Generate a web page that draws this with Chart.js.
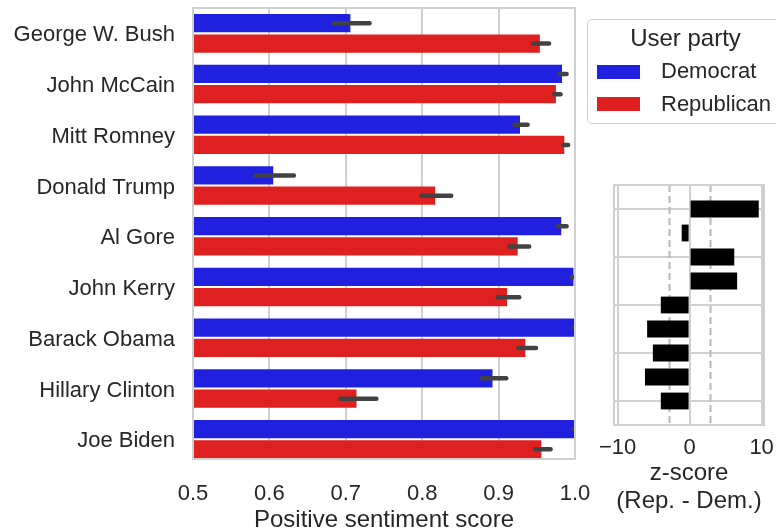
<!DOCTYPE html>
<html>
<head>
<meta charset="utf-8">
<script src="https://cdn.jsdelivr.net/npm/chart.js@4"></script>
<style>
  html, body { margin: 0; padding: 0; background: #fff; }
  body { width: 776px; height: 529px; overflow: hidden; position: relative; font-family: "Liberation Sans", Arial, sans-serif; color: #262626; }
  canvas { position: absolute; }
  #main { left: 0; top: 0; }
  #zplot { left: 595px; top: 160px; }
  #legend { position: absolute; left: 587px; top: 19px; width: 200px; height: 105px; border: 1.5px solid #cfcfcf; border-radius: 5px; background: #fff; box-sizing: border-box; }
  #legend .title { position: absolute; left: 0; width: 195px; top: 6px; text-align: center; font-size: 24px; line-height: 24px; }
  #legend .patch { position: absolute; left: 9px; width: 43px; height: 14px; }
  #legend .lab { position: absolute; left: 73px; font-size: 22px; line-height: 22px; white-space: nowrap; }
</style>
</head>
<body>
<canvas id="main" width="600" height="540"></canvas>
<canvas id="zplot" width="200" height="380"></canvas>
<div id="legend"></div>
<script>
// candidates, top to bottom
const candidates = ['George W. Bush', 'John McCain', 'Mitt Romney', 'Donald Trump', 'Al Gore',
                    'John Kerry', 'Barack Obama', 'Hillary Clinton', 'Joe Biden'];

// mean positive sentiment score by user party, with CI bounds
const demScore = [0.706, 0.983, 0.928, 0.605, 0.982, 0.998, 0.999, 0.892, 0.999];
const demLow   = [0.684, 0.980, 0.921, 0.582, 0.978, 0.996, 0.998, 0.878, 0.998];
const demHigh  = [0.731, 0.989, 0.938, 0.632, 0.989, 1.000, 1.000, 0.910, 1.000];
const repScore = [0.954, 0.975, 0.986, 0.817, 0.925, 0.911, 0.935, 0.714, 0.956];
const repLow   = [0.945, 0.973, 0.985, 0.799, 0.914, 0.899, 0.926, 0.693, 0.948];
const repHigh  = [0.966, 0.981, 0.991, 0.838, 0.940, 0.927, 0.949, 0.740, 0.968];

const xTicks = [0.5, 0.6, 0.7, 0.8, 0.9, 1.0];
// row axis runs a bit short at the bottom, like the original
const rowMin = -0.5, rowMax = 8.39;

// z-score (Rep. - Dem.), same order as candidates
const zScores = [9.6, -1.1, 6.2, 6.6, -4.0, -5.9, -5.1, -6.2, -4.0];
const zTicks = [-10, 0, 10];
const zRowTicks = [0, 2, 4, 6, 8];
const zThreshold = 2.9;

const legendTitle = 'User party';
const parties = ['Democrat', 'Republican'];

const DEM = '#2020df';
const REP = '#df2020';
const GRID = '#d0d0d0';
const TXT = '#262626';
const FONT = '"Liberation Sans", Arial, sans-serif';

// error bars drawn over each bar
const errorBars = {
  id: 'errorBars',
  afterDatasetsDraw(chart) {
    const { ctx, chartArea: a } = chart;
    const xs = chart.scales.x;
    const bounds = [[demLow, demHigh], [repLow, repHigh]];
    ctx.save();
    ctx.beginPath();
    ctx.rect(a.left, a.top, a.right - a.left, a.bottom - a.top);
    ctx.clip();
    ctx.strokeStyle = '#424242';
    ctx.lineWidth = 4.5;
    ctx.lineCap = 'round';
    bounds.forEach(([lo, hi], di) => {
      chart.getDatasetMeta(di).data.forEach((bar, j) => {
        ctx.beginPath();
        ctx.moveTo(xs.getPixelForValue(lo[j]), bar.y);
        ctx.lineTo(xs.getPixelForValue(hi[j]), bar.y);
        ctx.stroke();
      });
    });
    ctx.restore();
  }
};

// light grey box around the plot area
const frame = {
  id: 'frame',
  afterDatasetsDraw(chart) {
    const { ctx, chartArea: a } = chart;
    ctx.save();
    ctx.strokeStyle = GRID;
    ctx.lineWidth = 2;
    ctx.strokeRect(a.left, a.top, a.right - a.left, a.bottom - a.top);
    ctx.restore();
  }
};

// dashed significance lines in the z panel
const thresholdLines = {
  id: 'thresholdLines',
  beforeDatasetsDraw(chart) {
    const { ctx, chartArea: a } = chart;
    const xs = chart.scales.x;
    ctx.save();
    ctx.strokeStyle = '#b8b8b8';
    ctx.lineWidth = 2;
    ctx.setLineDash([7, 4]);
    [-zThreshold, zThreshold].forEach(v => {
      const x = Math.round(xs.getPixelForValue(v)) + 0.5;
      ctx.beginPath();
      ctx.moveTo(x, a.top);
      ctx.lineTo(x, a.bottom);
      ctx.stroke();
    });
    ctx.restore();
  }
};

// keep tick labels from pushing the plot area around
function noOverhang(s, size, key) {
  s[key] = size;
  s.paddingTop = 0; s.paddingBottom = 0; s.paddingLeft = 0; s.paddingRight = 0;
}

const tickFont = { family: FONT, size: 22 };
const titleFont = { family: FONT, size: 24, lineHeight: 28 / 24 };

new Chart(document.getElementById('main'), {
  type: 'bar',
  data: {
    datasets: [
      { label: parties[0], data: demScore.map((v, i) => ({ x: v, y: i })), backgroundColor: DEM },
      { label: parties[1], data: repScore.map((v, i) => ({ x: v, y: i })), backgroundColor: REP },
    ]
  },
  options: {
    indexAxis: 'y',
    responsive: false,
    animation: false,
    devicePixelRatio: 1,
    layout: { padding: { top: 8, right: 25, left: 0, bottom: 0 } },
    datasets: { bar: { categoryPercentage: 0.8, barPercentage: 0.9 } },
    scales: {
      x: {
        type: 'linear', min: 0.5, max: 1.0,
        afterBuildTicks: s => { s.ticks = xTicks.map(v => ({ value: v })); },
        afterFit: s => noOverhang(s, 81, 'height'),
        ticks: { font: tickFont, color: TXT, padding: 22, callback: v => Number(v).toFixed(1) },
        grid: { color: GRID, lineWidth: 2, drawTicks: false },
        border: { display: false },
        title: { display: true, text: 'Positive sentiment score', font: titleFont, color: TXT, padding: { top: 0, bottom: 6 } }
      },
      y: {
        type: 'linear', min: rowMin, max: rowMax, reverse: true, offset: false,
        afterBuildTicks: s => { s.ticks = candidates.map((_, i) => ({ value: i })); },
        afterFit: s => noOverhang(s, 193, 'width'),
        ticks: { font: tickFont, color: TXT, padding: 18, labelOffset: 2, autoSkip: false, callback: v => candidates[v] },
        grid: { display: false, drawTicks: false, offset: false },
        border: { display: false }
      }
    },
    plugins: { legend: { display: false }, tooltip: { enabled: false } }
  },
  plugins: [errorBars, frame]
});

new Chart(document.getElementById('zplot'), {
  type: 'bar',
  data: {
    datasets: [{
      label: 'z-score',
      data: zScores.map((v, i) => ({ x: v, y: i })),
      backgroundColor: '#000000',
      barPercentage: 0.7,
      categoryPercentage: 1.0
    }]
  },
  options: {
    indexAxis: 'y',
    responsive: false,
    animation: false,
    devicePixelRatio: 1,
    layout: { padding: { top: 25, right: 31, left: 0, bottom: 0 } },
    scales: {
      x: {
        type: 'linear', min: -10.5, max: 10.33,
        afterBuildTicks: s => { s.ticks = zTicks.map(v => ({ value: v })); },
        afterFit: s => noOverhang(s, 115, 'height'),
        ticks: { font: tickFont, color: TXT, padding: 10, callback: v => v < 0 ? '\u2212' + Math.abs(v) : String(v) },
        grid: { color: GRID, lineWidth: 2, drawTicks: false },
        border: { display: false },
        title: { display: true, text: ['z-score', '(Rep. - Dem.)'], font: titleFont, color: TXT, padding: { top: 0, bottom: 25 } }
      },
      y: {
        type: 'linear', min: -1, max: 9, reverse: true, offset: false,
        afterBuildTicks: s => { s.ticks = zRowTicks.map(v => ({ value: v })); },
        afterFit: s => noOverhang(s, 19, 'width'),
        ticks: { display: false },
        grid: { color: GRID, lineWidth: 2, drawTicks: false, offset: false },
        border: { display: false }
      }
    },
    plugins: { legend: { display: false }, tooltip: { enabled: false } }
  },
  plugins: [thresholdLines, frame]
});

// legend box (HTML)
const legend = document.getElementById('legend');
legend.innerHTML =
  `<div class="title">${legendTitle}</div>` +
  `<div class="patch" style="top:45px;background:${DEM}"></div>` +
  `<div class="lab" style="top:40px">${parties[0]}</div>` +
  `<div class="patch" style="top:77px;background:${REP}"></div>` +
  `<div class="lab" style="top:73px">${parties[1]}</div>`;
</script>
</body>
</html>
